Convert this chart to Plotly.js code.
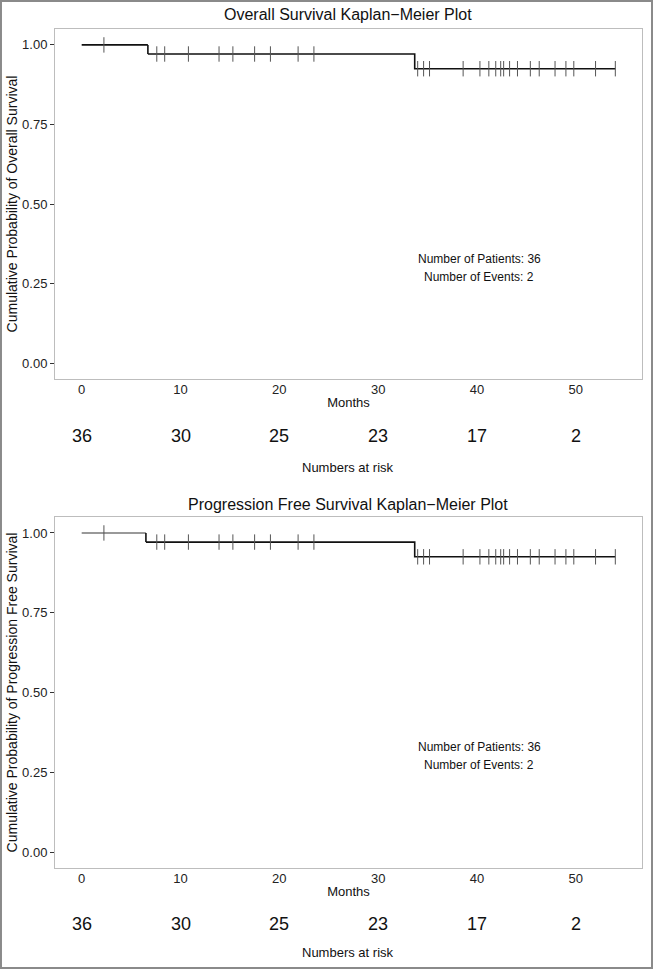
<!DOCTYPE html>
<html>
<head>
<meta charset="utf-8">
<script src="https://cdn.plot.ly/plotly-3.0.1.min.js"></script>
<style>html,body{margin:0;padding:0;background:#fff;}#chart{width:653px;height:969px;}</style>
</head>
<body>
<div id="chart"></div>
<script>
// ---- Data ----
const osStepTimes = [0, 6.7, 33.7, 54.0];
const osStepSurv = [1.0, 0.9714, 0.9252, 0.9252];
const osCensorTimes = [2.25, 7.6, 8.4, 10.8, 13.9, 15.3, 17.5, 19.1, 21.9, 23.5,
  34.0, 34.6, 35.2, 38.6, 40.3, 41.2, 41.9, 42.4, 42.7, 43.3, 44.1, 45.4, 46.3, 47.9, 49.0, 49.8, 52.0, 54.0];

const pfsStepTimes = [0, 6.5, 33.7, 54.0];
const pfsStepSurv = [1.0, 0.9714, 0.9252, 0.9252];
const pfsCensorTimes = [2.25, 7.6, 8.4, 10.8, 13.9, 15.3, 17.5, 19.1, 21.9, 23.5,
  34.0, 34.6, 35.2, 38.6, 40.3, 41.2, 41.9, 42.4, 42.7, 43.3, 44.1, 45.4, 46.3, 47.9, 49.0, 49.8, 52.0, 54.0];

const riskTimes = [0, 10, 20, 30, 40, 50];
const osRisk = [36, 30, 25, 23, 17, 2];
const pfsRisk = [36, 30, 25, 23, 17, 2];

const osPatients = 36, osEvents = 2;
const pfsPatients = 36, pfsEvents = 2;

// ---- helpers ----
function survAt(times, surv, t) {
  let s = surv[0];
  for (let i = 0; i < times.length; i++) { if (t >= times[i]) s = surv[i]; }
  return s;
}

const FONT = "Liberation Sans, Arial, Helvetica, sans-serif";
const W = 653, H = 969;
const px = (x) => x / W;
const py = (y) => 1 - y / H;

function kmTraces(times, surv, censor, xa, ya, firstColor) {
  const traces = [];
  traces.push({
    x: [times[0], times[1]], y: [surv[0], surv[0]],
    mode: 'lines', line: {color: firstColor, width: 1.6},
    xaxis: xa, yaxis: ya, hoverinfo: 'skip', showlegend: false
  });
  traces.push({
    x: times.slice(1), y: surv.slice(1),
    mode: 'lines', line: {color: '#111', width: 1.6, shape: 'hv'},
    xaxis: xa, yaxis: ya, hoverinfo: 'skip', showlegend: false
  });
  traces.push({
    x: [times[1], times[1]], y: [surv[0], surv[1]],
    mode: 'lines', line: {color: '#111', width: 1.6},
    xaxis: xa, yaxis: ya, hoverinfo: 'skip', showlegend: false
  });
  traces.push({
    x: censor, y: censor.map(t => survAt(times, surv, t)),
    mode: 'markers',
    marker: {symbol: 'line-ns', size: 11, line: {color: '#555', width: 1}},
    xaxis: xa, yaxis: ya, hoverinfo: 'skip', showlegend: false
  });
  return traces;
}

const data = [].concat(
  kmTraces(osStepTimes, osStepSurv, osCensorTimes, 'x', 'y', '#111'),
  kmTraces(pfsStepTimes, pfsStepSurv, pfsCensorTimes, 'x2', 'y2', '#777')
);

function xAxis(anchor) {
  return {
    domain: [px(55), px(642)], range: [-2.7, 56.7], anchor: anchor,
    tickvals: riskTimes, ticktext: riskTimes.map(String),
    showgrid: false, zeroline: false, showline: true, mirror: true,
    linecolor: '#bdbdbd', linewidth: 1, ticks: '', ticklen: 0,
    ticklabelstandoff: -2,
    tickfont: {family: FONT, size: 13, color: '#222'},
    title: {text: 'Months', font: {family: FONT, size: 13, color: '#111'}, standoff: 2}
  };
}
function yAxis(top, bottom, anchor, titleText) {
  return {
    domain: [py(bottom), py(top)], range: [-0.05, 1.05], anchor: anchor,
    tickvals: [0, 0.25, 0.5, 0.75, 1], ticktext: ['0.00', '0.25', '0.50', '0.75', '1.00'],
    showgrid: false, zeroline: false, showline: true, mirror: true,
    linecolor: '#bdbdbd', linewidth: 1, ticks: 'outside', ticklen: 4, tickcolor: '#333',
    tickfont: {family: FONT, size: 13, color: '#222'},
    title: {text: titleText, font: {family: FONT, size: 14, color: '#111'}, standoff: 1}
  };
}

const annotations = [];
function panelAnn(titleText, titleY, riskArr, riskY, riskLabelY, xref, patients, events, annY) {
  annotations.push({text: titleText, xref: 'paper', yref: 'paper', x: px(348.5), y: py(titleY),
    xanchor: 'center', yanchor: 'middle', showarrow: false, font: {family: FONT, size: 16, color: '#111'}});
  riskArr.forEach((n, i) => {
    annotations.push({text: String(n), xref: xref, yref: 'paper', x: riskTimes[i], y: py(riskY),
      xanchor: 'center', yanchor: 'middle', showarrow: false, font: {family: FONT, size: 18, color: '#111'}});
  });
  annotations.push({text: 'Numbers at risk', xref: 'paper', yref: 'paper', x: px(348.5), y: py(riskLabelY),
    xanchor: 'center', yanchor: 'middle', showarrow: false, font: {family: FONT, size: 13, color: '#111'}});
  annotations.push({text: 'Number of Patients: ' + patients, xref: 'paper', yref: 'paper', x: px(479), y: py(annY),
    xanchor: 'center', yanchor: 'middle', showarrow: false, font: {family: FONT, size: 12, color: '#111'}});
  annotations.push({text: 'Number of Events: ' + events, xref: 'paper', yref: 'paper', x: px(479), y: py(annY + 18),
    xanchor: 'center', yanchor: 'middle', showarrow: false, font: {family: FONT, size: 12, color: '#111'}});
}
panelAnn('Overall Survival Kaplan\u2212Meier Plot', 14, osRisk, 436, 467, 'x', osPatients, osEvents, 259);
panelAnn('Progression Free Survival Kaplan\u2212Meier Plot', 505, pfsRisk, 924, 952, 'x2', pfsPatients, pfsEvents, 747);

const layout = {
  width: W, height: H,
  margin: {l: 0, r: 0, t: 0, b: 0},
  paper_bgcolor: '#fff', plot_bgcolor: '#fff',
  showlegend: false,
  xaxis: xAxis('y'),
  yaxis: yAxis(29, 379, 'x', 'Cumulative Probability of Overall Survival'),
  xaxis2: xAxis('y2'),
  yaxis2: yAxis(517, 868, 'x2', 'Cumulative Probability of Progression Free Survival'),
  annotations: annotations,
  shapes: [{type: 'rect', xref: 'paper', yref: 'paper', x0: 0.0015, x1: 0.9985, y0: 0.001, y1: 0.999,
    line: {color: '#8a8a8a', width: 2}, fillcolor: 'rgba(0,0,0,0)'}]
};

Plotly.newPlot('chart', data, layout, {displayModeBar: false, staticPlot: true});
</script>
</body>
</html>
